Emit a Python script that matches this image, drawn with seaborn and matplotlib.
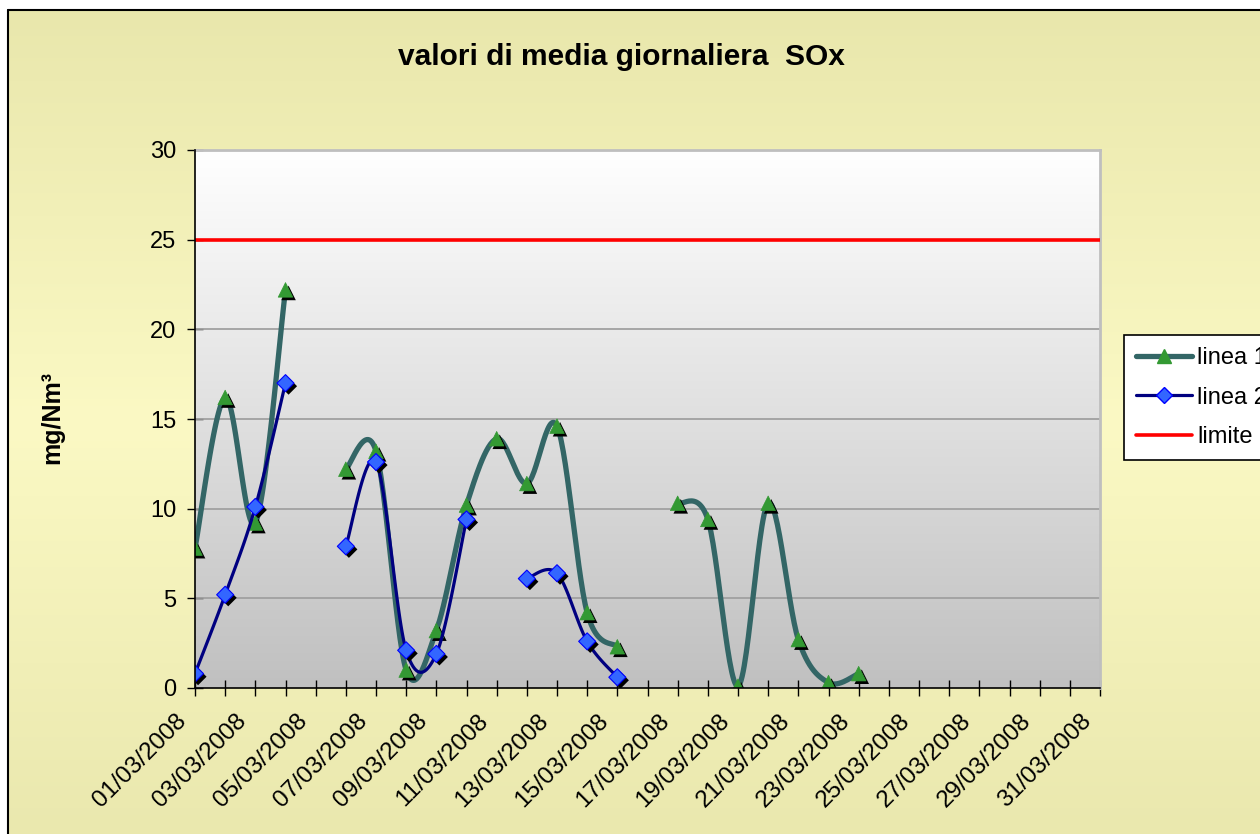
import numpy as np
import pandas as pd
import matplotlib
matplotlib.use("Agg")
import matplotlib.pyplot as plt
import seaborn as sns
import matplotlib.patheffects as pe
from matplotlib.lines import Line2D
from matplotlib.colors import LinearSegmentedColormap
from matplotlib.transforms import ScaledTranslation

# ---------------- data ----------------
days = list(range(1, 32))
tick_labels = ["01/03/2008", "", "03/03/2008", "", "05/03/2008", "", "07/03/2008", "",
               "09/03/2008", "", "11/03/2008", "", "13/03/2008", "", "15/03/2008", "",
               "17/03/2008", "", "19/03/2008", "", "21/03/2008", "", "23/03/2008", "",
               "25/03/2008", "", "27/03/2008", "", "29/03/2008", "", "31/03/2008"]
nan = np.nan
linea1 = [7.8, 16.2, 9.2, 22.2, nan, 12.2, 13.2, 1.0, 3.2, 10.2, 13.9, 11.4, 14.6, 4.2,
          2.3, nan, 10.3, 9.4, 0.1, 10.3, 2.7, 0.3, 0.8, nan, nan, nan, nan, nan, nan, nan, nan]
linea2 = [0.8, 5.2, 10.1, 17.0, nan, 7.9, 12.6, 2.1, 1.9, 9.4, nan, 6.1, 6.4, 2.6,
          0.6, nan, nan, nan, nan, nan, nan, nan, nan, nan, nan, nan, nan, nan, nan, nan, nan]
limite = 25
title = "valori di media giornaliera  SOx"
ylabel = "mg/Nm³"
series_names = ["linea 1", "linea 2", "limite"]


def smooth_segments(x, y, n=30):
    """Excel-like smoothed line (Bezier with Catmull-Rom control points) per contiguous run."""
    x = np.asarray(x, float)
    y = np.asarray(y, float)
    rows = []
    seg = 0
    ok = ~np.isnan(y)
    i = 0
    while i < len(x):
        if not ok[i]:
            i += 1
            continue
        j = i
        while j < len(x) and ok[j]:
            j += 1
        px, py = x[i:j], y[i:j]
        if len(px) >= 2:
            P = np.column_stack([px, py])
            for k in range(len(P) - 1):
                p0 = P[k - 1] if k > 0 else P[k]
                p1 = P[k]
                p2 = P[k + 1]
                p3 = P[k + 2] if k + 2 < len(P) else P[k + 1]
                b1 = p1 + (p2 - p0) / 6.0
                b2 = p2 - (p3 - p1) / 6.0
                t = np.linspace(0, 1, n)[:, None]
                c = ((1 - t) ** 3) * p1 + 3 * ((1 - t) ** 2) * t * b1 + 3 * (1 - t) * t ** 2 * b2 + t ** 3 * p2
                for cx, cy in c:
                    rows.append((cx, cy, seg))
            seg += 1
        i = j
    return pd.DataFrame(rows, columns=["x", "y", "seg"])


# ---------------- figure ----------------
sns.set_style("white")
plt.rcParams["font.family"] = ["Liberation Sans", "DejaVu Sans"]
plt.rcParams["text.color"] = "black"
plt.rcParams["xtick.color"] = "black"
plt.rcParams["ytick.color"] = "black"
plt.rcParams["axes.labelcolor"] = "black"

W, H = 1260, 834
fig = plt.figure(figsize=(W / 100, H / 100), dpi=100)
fig.patch.set_facecolor("white")

# chart background gradient (pale yellow)
bx0 = 8 / W
by1 = 1 - 10 / H
bg = fig.add_axes([bx0, 0, 1 - bx0, by1], zorder=-10)
bg_cmap = LinearSegmentedColormap.from_list(
    "bg", [(0.0, "#E9E7AC"), (0.5, "#FBF9C4"), (1.0, "#EAE8AE")])
grad = np.linspace(0, 1, 256)[:, None]
bg.imshow(grad, aspect="auto", cmap=bg_cmap, extent=[0, 1, 0, 1], origin="upper")
bg.set_axis_off()
fig.add_artist(Line2D([bx0, bx0], [0, by1], color="black", lw=1.5, transform=fig.transFigure))
fig.add_artist(Line2D([bx0, 1], [by1, by1], color="black", lw=1.5, transform=fig.transFigure))

# plot area
L, R, T, B = 195, 1100, 150, 688
ax = fig.add_axes([L / W, 1 - B / H, (R - L) / W, (B - T) / H])
ax.set_facecolor("none")
pa_cmap = LinearSegmentedColormap.from_list("pa", ["#FFFFFF", "#C0C0C0"])
ax.imshow(grad, aspect="auto", cmap=pa_cmap, extent=[0, 1, 0, 1], origin="upper",
          transform=ax.transAxes, zorder=0)

ax.set_xlim(1, 31)
ax.set_ylim(0, 30)
ax.set_yticks(range(0, 31, 5))
for yv in range(5, 31, 5):
    ax.axhline(yv, color="#A0A0A0", lw=1.3, zorder=1)

teal = "#336666"
green = "#339933"
navy = "#000080"
blue = "#3366FF"
shadow = [pe.SimplePatchShadow(offset=(2.2, -2.2), shadow_rgbFace="black", alpha=1.0), pe.Normal()]

# linea 1
s1 = smooth_segments(days, linea1)
sns.lineplot(data=s1, x="x", y="y", units="seg", estimator=None, sort=False,
             color=teal, lw=3.8, ax=ax, zorder=3, legend=False)
sns.scatterplot(x=days, y=linea1, marker="^", s=110, color=green, edgecolor=green,
                linewidth=0.5, ax=ax, zorder=4, legend=False)
ax.collections[-1].set_path_effects(shadow)

# linea 2
s2 = smooth_segments(days, linea2)
sns.lineplot(data=s2, x="x", y="y", units="seg", estimator=None, sort=False,
             color=navy, lw=2.3, ax=ax, zorder=5, legend=False)
sns.scatterplot(x=days, y=linea2, marker="D", s=75, color=blue, edgecolor="#0000FF",
                linewidth=0.8, ax=ax, zorder=6, legend=False)
ax.collections[-1].set_path_effects(shadow)

# limite
sns.lineplot(x=days, y=[limite] * len(days), color="#FF0000", lw=2.6, ax=ax, zorder=7,
             legend=False)

ax.set_xlim(1, 31)
ax.set_ylim(0, 30)
ax.set_xlabel("")
ax.set_ylabel("")

ax.tick_params(axis="x", direction="inout", length=11, width=1, color="black", pad=8)
ax.tick_params(axis="y", direction="inout", length=11, width=1, color="black", pad=8,
               labelsize=17)
ax.tick_params(left=True, bottom=True)
ax.set_xticks(days)
ax.set_xticklabels(tick_labels, rotation=45, ha="right", va="center", rotation_mode="anchor",
                   fontsize=17.5)
shift = ScaledTranslation(-0.12, -0.11, fig.dpi_scale_trans)
for lab in ax.get_xticklabels():
    lab.set_transform(lab.get_transform() + shift)

for side in ["top", "right"]:
    ax.spines[side].set_color("#BFBFBF")
    ax.spines[side].set_linewidth(2)
for side in ["left", "bottom"]:
    ax.spines[side].set_color("black")
    ax.spines[side].set_linewidth(1.2)
    ax.spines[side].set_zorder(8)

# title and y label
fig.text(621 / W, 1 - 57 / H, title, ha="center", va="center", fontsize=21.5, fontweight="bold")
fig.text(52 / W, 1 - 417 / H, ylabel, ha="center", va="center", rotation=90,
         fontsize=18, fontweight="bold")

# legend
handles = [
    Line2D([], [], color=teal, lw=3.8, marker="^", ms=10.5, mfc=green, mec=green),
    Line2D([], [], color=navy, lw=2.3, marker="D", ms=8.5, mfc=blue, mec="#0000FF"),
    Line2D([], [], color="#FF0000", lw=2.6),
]
leg = fig.legend(handles, series_names, loc="upper left", bbox_to_anchor=(1124 / W, 1 - 335 / H),
                 frameon=True, fancybox=False, edgecolor="black", facecolor="white", framealpha=1,
                 fontsize=17, handlelength=2.4, handletextpad=0.2, borderpad=0.5,
                 labelspacing=0.75, borderaxespad=0)
leg.get_frame().set_linewidth(1.2)

fig.savefig("out.png", dpi=100)
